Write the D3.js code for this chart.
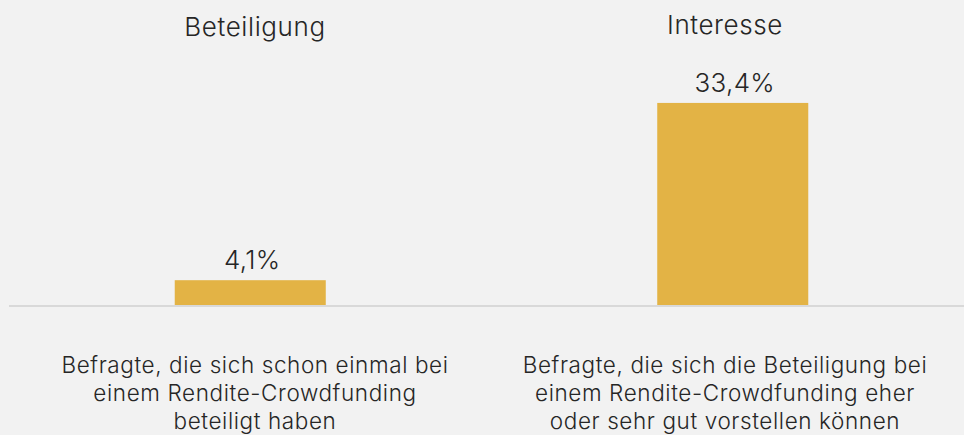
<!doctype html>
<meta charset="utf-8" />
<script src="https://cdn.jsdelivr.net/npm/d3@7"></script>
<style>
    body {
        margin: 0;
        background: #f2f2f2;
    }

    svg {
        display: block;
    }

    text {
        font-family: Inter, Roboto, sans-serif;
        font-weight: 350;
        fill: #262626;
    }
</style>
<svg id="chart"></svg>
<script>
    var categories = ['Beteiligung', 'Interesse'];
    var values = [4.1, 33.4];
    var valueLabels = ['4,1%', '33,4%'];
    var descriptions = [
        ['Befragte, die sich schon einmal bei', 'einem Rendite-Crowdfunding', 'beteiligt haben'],
        ['Befragte, die sich die Beteiligung bei', 'einem Rendite-Crowdfunding eher', 'oder sehr gut vorstellen können']
    ];

    var width = 964,
        height = 435,
        baseY = 305;

    var svg = d3.select('svg#chart')
        .attr('width', width)
        .attr('height', height);

    var x = d3.scaleBand()
        .domain(categories)
        .range([9, 974])
        .paddingInner(0.687)
        .paddingOuter(0.3435);

    // text blocks sit on a slightly narrower grid than the bars
    var xText = d3.scalePoint()
        .domain(categories)
        .range([20, 960])
        .padding(0.5);

    var y = d3.scaleLinear()
        .domain([0, 40])
        .range([baseY, 63]);

    svg.append('rect')
        .attr('x', 9)
        .attr('y', baseY)
        .attr('width', width - 9)
        .attr('height', 2)
        .style('fill', '#d9d9d9');

    svg.selectAll('rect.bar')
        .data(values)
        .enter()
        .append('rect')
        .attr('class', 'bar')
        .attr('x', (d, i) => x(categories[i]))
        .attr('y', d => y(d))
        .attr('width', x.bandwidth())
        .attr('height', d => baseY - y(d))
        .style('fill', '#e3b345');

    svg.selectAll('text.value')
        .data(values)
        .enter()
        .append('text')
        .attr('class', 'value')
        .attr('x', (d, i) => x(categories[i]) + x.bandwidth() / 2 + 2)
        .attr('y', d => y(d) - 11)
        .attr('text-anchor', 'middle')
        .style('font-size', '26px')
        .style('letter-spacing', '0.3px')
        .text((d, i) => valueLabels[i]);

    svg.selectAll('text.title')
        .data(categories)
        .enter()
        .append('text')
        .attr('class', 'title')
        .attr('x', d => xText(d))
        .attr('y', (d, i) => i == 0 ? 36 : 34)
        .attr('text-anchor', 'middle')
        .style('font-size', '26px')
        .style('letter-spacing', '0.6px')
        .text(d => d);

    var desc = svg.selectAll('text.desc')
        .data(descriptions)
        .enter()
        .append('text')
        .attr('class', 'desc')
        .attr('text-anchor', 'middle')
        .style('font-size', '22.5px')
        .style('letter-spacing', '0.6px');

    desc.each(function (lines, i) {
        d3.select(this).selectAll('tspan')
            .data(lines)
            .enter()
            .append('tspan')
            .attr('x', xText(categories[i]))
            .attr('y', (d, j) => 373 + j * 28)
            .text(d => d);
    });
</script>
